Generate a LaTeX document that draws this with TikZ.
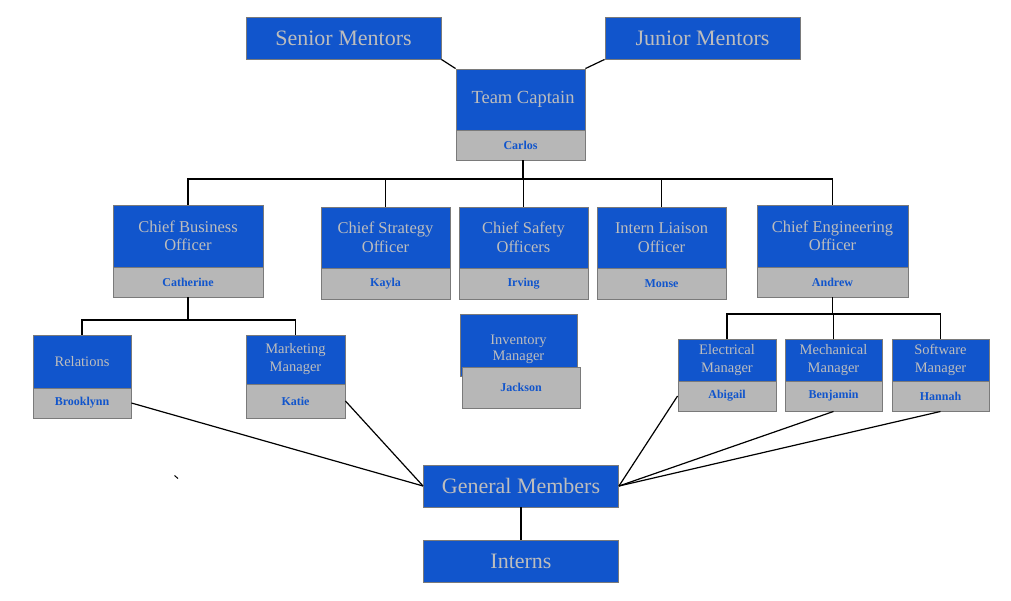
\documentclass[tikz,border=0pt]{standalone}
\usepackage{fontspec}
\setmainfont{Liberation Serif}
\definecolor{bluec}{HTML}{1155CC}
\definecolor{grayc}{HTML}{B7B7B7}
\definecolor{bordc}{HTML}{7A7A7A}
\definecolor{txtc}{HTML}{BDBDBD}
\tikzset{
  bluebox/.style={fill=bluec, draw=bordc, line width=0.9pt, text=txtc, inner sep=0pt, align=center, font=\fontsize{16.5}{18.5}\selectfont},
  graybox/.style={fill=grayc, draw=bordc, line width=0.9pt, text=bluec, inner sep=0pt, align=center, font=\fontsize{12}{14}\selectfont\bfseries},
  bigbox/.style={bluebox, font=\fontsize{22}{26}\selectfont, minimum width=195pt, minimum height=42pt},
  smallbox/.style={bluebox, font=\fontsize{14.5}{18}\selectfont},
  conn/.style={draw=black, line width=1.2pt},
}
\begin{document}
\begin{tikzpicture}[x=1pt,y=-1pt]
\useasboundingbox (0,0) rectangle (1011,600);
% top
\node[bigbox] (SM) at (343.5,38) {Senior Mentors};
\node[bigbox] (JM) at (702.5,38) {Junior Mentors};
\node[bluebox, font=\fontsize{18.5}{22}\selectfont, minimum width=129pt, minimum height=61pt] (TC) at (520.5,99.5) {\hspace*{5pt}Team Captain};
\node[graybox, minimum width=129pt, minimum height=30pt] (TCn) at (520.5,145) {Carlos};
% chiefs
\node[bluebox, minimum width=150pt, minimum height=62pt] (CBO) at (188,236) {Chief Business\\Officer};
\node[graybox, minimum width=150pt, minimum height=30pt] (CBOn) at (188,282) {Catherine};
\node[bluebox, minimum width=129pt, minimum height=61pt] (CSO) at (385.5,237.5) {Chief Strategy\\Officer};
\node[graybox, minimum width=129pt, minimum height=31pt] (CSOn) at (385.5,283.5) {Kayla};
\node[bluebox, minimum width=129pt, minimum height=61pt] (CSF) at (523.5,237.5) {Chief Safety\\Officers};
\node[graybox, minimum width=129pt, minimum height=31pt] (CSFn) at (523.5,283.5) {Irving};
\node[bluebox, minimum width=129pt, minimum height=61pt] (ILO) at (661.5,237.5) {Intern Liaison\\Officer};
\node[graybox, minimum width=129pt, minimum height=31pt] (ILOn) at (661.5,283.5) {Monse};
\node[bluebox, minimum width=151pt, minimum height=62pt] (CEO) at (832.5,236) {Chief Engineering\\Officer};
\node[graybox, minimum width=151pt, minimum height=30pt] (CEOn) at (832.5,282) {Andrew};
% business sub
\node[smallbox, minimum width=98pt, minimum height=53pt] (REL) at (82,361.5) {Relations};
\node[graybox, minimum width=98pt, minimum height=30pt] (RELn) at (82,403) {Brooklynn};
\node[smallbox, minimum width=99pt, minimum height=49pt] (MM) at (295.5,359.5) {Marketing\\Manager};
\node[graybox, minimum width=99pt, minimum height=34pt] (MMn) at (295.5,401) {Katie};
% inventory
\node[smallbox, minimum width=117pt, minimum height=62pt, anchor=north, text depth=0pt] (INV) at (518.5,314) {\raisebox{6pt}{\begin{tabular}{@{}c@{}}Inventory\\[-2.5pt]Manager\end{tabular}}};
\node[graybox, minimum width=118pt, minimum height=41pt] (INVn) at (521,387.5) {Jackson};
% engineering sub
\node[smallbox, minimum width=98pt, minimum height=42pt] (EM) at (727,360) {Electrical\\Manager};
\node[graybox, minimum width=98pt, minimum height=30pt] (EMn) at (727,396) {Abigail};
\node[smallbox, minimum width=97pt, minimum height=42pt] (MEM) at (833.5,360) {Mechanical\\Manager};
\node[graybox, minimum width=97pt, minimum height=30pt] (MEMn) at (833.5,396) {Benjamin};
\node[smallbox, minimum width=97pt, minimum height=42pt] (SWM) at (940.5,360) {Software\\Manager};
\node[graybox, minimum width=97pt, minimum height=30pt] (SWMn) at (940.5,396) {Hannah};
% bottom
\node[bigbox] (GM) at (521,486) {General Members};
\node[bigbox] (INT) at (521,561) {Interns};
% bus coordinates
\coordinate (busA) at (0,179);
\coordinate (busB) at (0,320);
\coordinate (busC) at (0,314);
% connectors
\draw[conn] (SM.south east) -- (TC.north west);
\draw[conn] (JM.south west) -- (TC.north east);
\draw[conn] ([xshift=2.5pt]TCn.south) -- ([xshift=2.5pt]TCn.south |- busA);
\draw[conn] (CBO.north) -- (CBO.north |- busA) -- (CEO.north |- busA) -- (CEO.north);
\draw[conn] (CSO.north) -- (CSO.north |- busA);
\draw[conn] (CSF.north) -- (CSF.north |- busA);
\draw[conn] (ILO.north) -- (ILO.north |- busA);
\draw[conn] (CBOn.south) -- (CBOn.south |- busB);
\draw[conn] (REL.north) -- (REL.north |- busB) -- (MM.north |- busB) -- (MM.north);
\draw[conn] (CEOn.south) -- (CEOn.south |- busC);
\draw[conn] (EM.north) -- (EM.north |- busC) -- (SWM.north |- busC) -- (SWM.north);
\draw[conn] (MEM.north |- busC) -- (MEM.north);
\draw[conn] (RELn.east) -- (GM.west);
\draw[conn] (MMn.east) -- (GM.west);
\draw[conn] (EMn.west) -- (GM.east);
\draw[conn] (MEMn.south) -- (GM.east);
\draw[conn] (SWMn.south) -- (GM.east);
\draw[conn] (GM.south) -- (INT.north);
% stray mark
\draw[line width=1pt] (174.5,475.5) -- (178,478.5);
\end{tikzpicture}
\end{document}
